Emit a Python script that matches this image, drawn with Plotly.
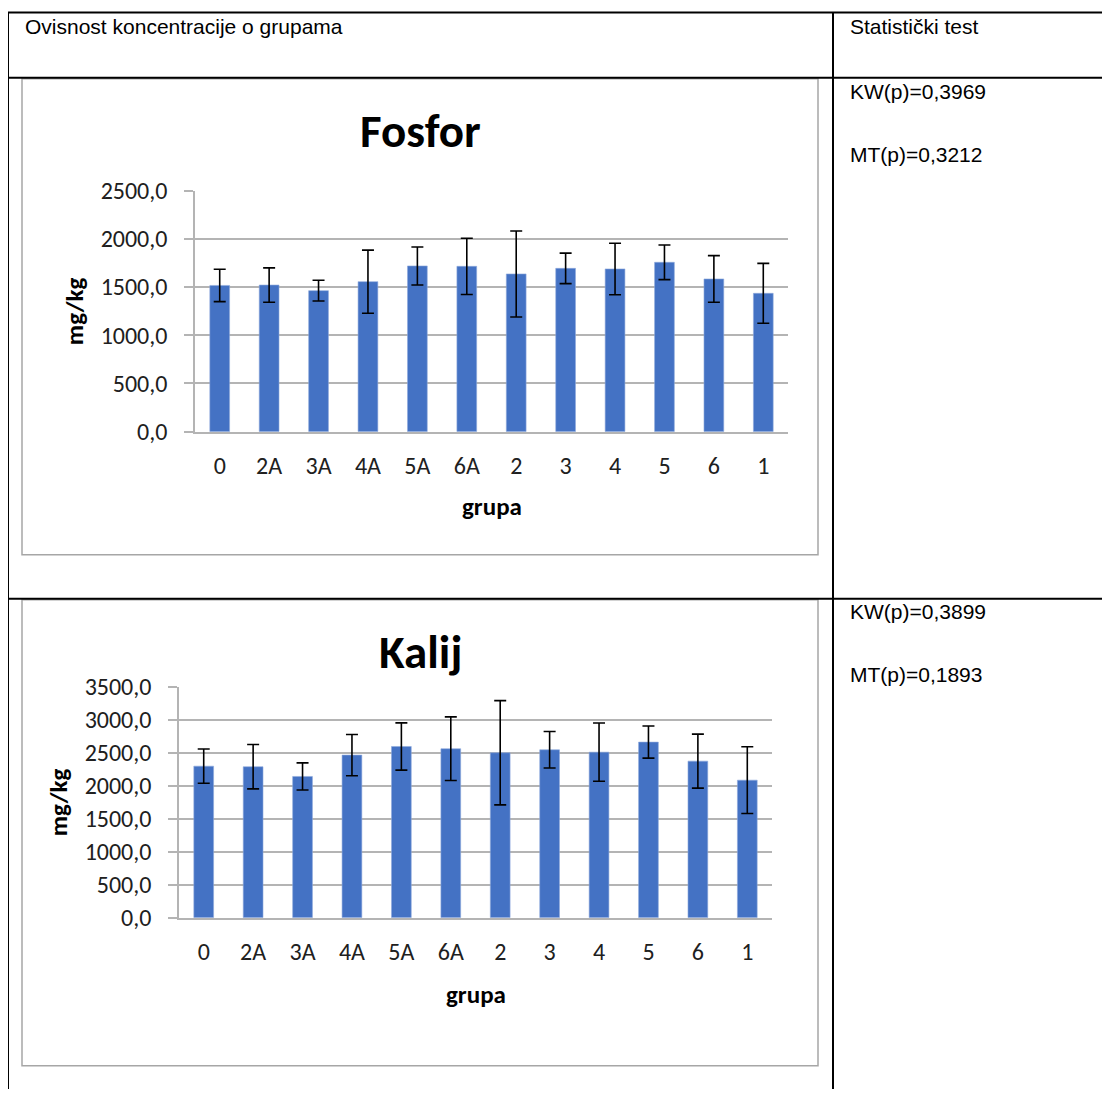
import plotly.graph_objects as go

# page is 1110x1097, body keeps its 8px margin, so the figure is drawn 16px smaller
PAGE_W, PAGE_H = 1110, 1097
OFF = 8
W, H = PAGE_W - 2 * OFF, PAGE_H - 2 * OFF
# measured vertical squeeze of the screenshot: shown_y = Y0 + YK * page_y
Y0, YK = 15.6, 0.973

# ── Data ──────────────────────────────────────────────────────────────────────
grupe = ["0", "2A", "3A", "4A", "5A", "6A", "2", "3", "4", "5", "6", "1"]

fosfor = [1517, 1521, 1463, 1556, 1719, 1715, 1636, 1694, 1688, 1757, 1584, 1435]
fosfor_sd = [168, 178, 108, 327, 197, 292, 446, 158, 267, 180, 242, 311]

kalij = [2297, 2288, 2141, 2464, 2595, 2561, 2500, 2545, 2509, 2661, 2373, 2085]
kalij_sd = [260, 336, 205, 313, 358, 482, 790, 277, 442, 243, 409, 505]

fosfor_test = ["KW(p)=0,3969", "MT(p)=0,3212"]
kalij_test = ["KW(p)=0,3899", "MT(p)=0,1893"]

header_left = "Ovisnost koncentracije o grupama"
header_right = "Statistički test"

# ── Style ─────────────────────────────────────────────────────────────────────
BAR = "#4472C4"
GRID = "#b4b4b4"
FRAME = "#a6a6a6"
CAL = "Carlito, Calibri, Lato, sans-serif"
ARIAL = "Liberation Sans, Arial, sans-serif"


def px(x):
    # target pixel -> paper x
    return (x - OFF) / W


def py(y):
    # target pixel -> paper y
    page_y = (y - Y0) / YK
    return 1 - (page_y - OFF) / H


fig = go.Figure()

charts = [
    dict(title="Fosfor", y=fosfor, sd=fosfor_sd, ymax=2500,
         box=(195, 788, 191, 432), frame=(22, 818, 79, 555),
         ty=131, xty=507, tests=fosfor_test, testy=(92, 155), ax=""),
    dict(title="Kalij", y=kalij, sd=kalij_sd, ymax=3500,
         box=(179, 772, 687, 918), frame=(22, 818, 600, 1066),
         ty=652, xty=995, tests=kalij_test, testy=(612, 675), ax="2"),
]

shapes = []
annotations = []

for c in charts:
    l, r, t, b = c["box"]
    xa, ya = "x" + c["ax"], "y" + c["ax"]
    fig.add_trace(go.Bar(
        x=grupe, y=c["y"], xaxis=xa, yaxis=ya,
        marker=dict(color=BAR, line=dict(color="#8faadc", width=0.6)),
        error_y=dict(type="data", array=c["sd"], visible=True,
                     color="black", thickness=1.6, width=6),
        showlegend=False,
    ))
    axis_x = dict(
        domain=[px(l), px(r)], anchor=ya, type="category",
        range=[-0.5, 11.5], showgrid=False, showline=True,
        linecolor=GRID, linewidth=1.5, ticks="", ticklabelstandoff=12,
        tickfont=dict(family=CAL, size=24, color="#202020"),
    )
    axis_y = dict(
        domain=[py(b), py(t)], anchor=xa, range=[0, c["ymax"]], dtick=500,
        tickformat=".1f", showgrid=True, gridcolor=GRID, gridwidth=1.5,
        showline=True, linecolor=GRID, linewidth=1.5, zeroline=False,
        ticks="outside", ticklen=9, tickcolor=GRID, tickwidth=1.5,
        ticklabelstandoff=12,
        tickfont=dict(family=CAL, size=24, color="#202020"),
    )
    fig.update_layout(**{"xaxis" + c["ax"]: axis_x, "yaxis" + c["ax"]: axis_y})

    # chart frame
    fl, fr, ft, fb = c["frame"]
    shapes.append(dict(type="rect", xref="paper", yref="paper",
                       x0=px(fl), x1=px(fr), y0=py(fb), y1=py(ft),
                       line=dict(color=FRAME, width=1.5)))
    annotations += [
        dict(text="<b>%s</b>" % c["title"], x=px(420), y=py(c["ty"]),
             font=dict(family=CAL, size=47, color="black")),
        dict(text="<b>grupa</b>", x=px((l + r) / 2), y=py(c["xty"]),
             font=dict(family=CAL, size=25, color="black")),
        dict(text="<b>mg/kg</b>", x=px(l - 121), y=py((t + b) / 2),
             textangle=-90, font=dict(family=CAL, size=25, color="black")),
    ]
    for txt, yy in zip(c["tests"], c["testy"]):
        annotations.append(dict(text=txt, x=px(848), y=py(yy), xanchor="left",
                                font=dict(family=ARIAL, size=21, color="black")))

for a in annotations:
    a.setdefault("xanchor", "center")
    a.update(xref="paper", yref="paper", yanchor="middle", showarrow=False)

annotations += [
    dict(text=header_left, x=px(23), y=py(27), xref="paper", yref="paper",
         xanchor="left", yanchor="middle", showarrow=False,
         font=dict(family=ARIAL, size=21, color="black")),
    dict(text=header_right, x=px(848), y=py(27), xref="paper", yref="paper",
         xanchor="left", yanchor="middle", showarrow=False,
         font=dict(family=ARIAL, size=21, color="black")),
]

# table borders
for x0, y0, x1, y1 in [(8, 13, PAGE_W, 13), (8, 78, PAGE_W, 78), (8, 599, PAGE_W, 599),
                       (8, 13, 8, PAGE_H + 40), (833, 13, 833, PAGE_H + 40)]:
    shapes.append(dict(type="line", xref="paper", yref="paper",
                       x0=px(x0), y0=py(y0), x1=px(x1), y1=py(y1),
                       line=dict(color="black", width=2)))

fig.update_layout(
    width=W, height=H, margin=dict(l=0, r=0, t=0, b=0),
    paper_bgcolor="white", plot_bgcolor="white",
    separators=",.", bargap=0.6,
    shapes=shapes, annotations=annotations,
)

fig.write_html("out.html")
